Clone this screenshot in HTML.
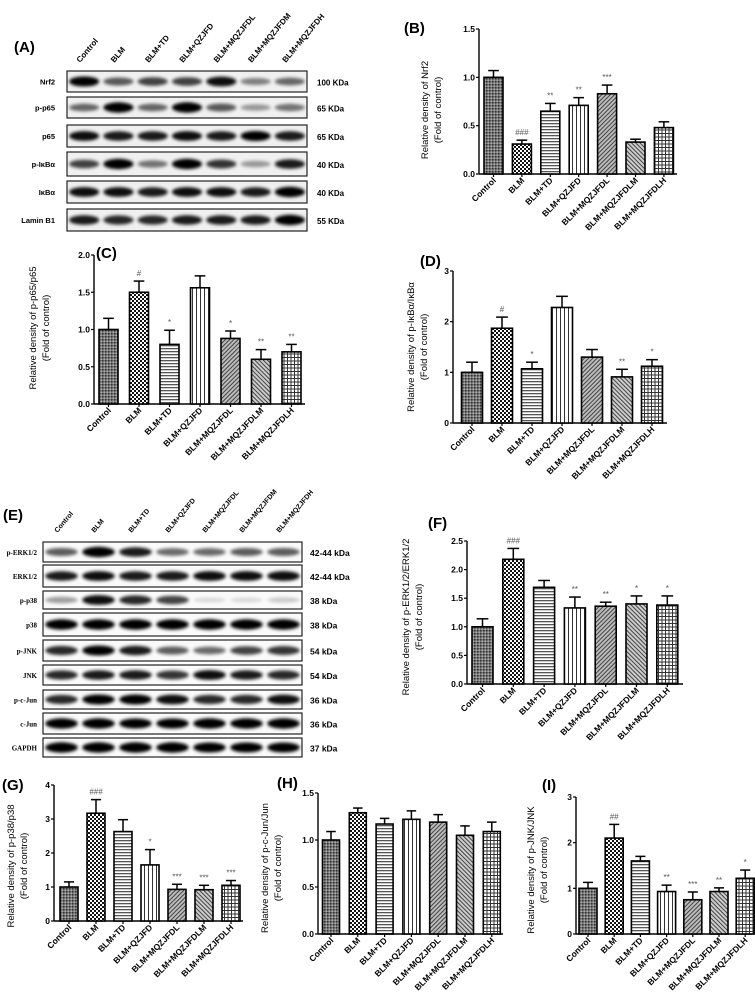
<!DOCTYPE html>
<html><head><meta charset="utf-8"><title>Figure</title>
<style>
html,body{margin:0;padding:0;background:#fff;}
svg{display:block;font-family:"Liberation Sans",Arial,sans-serif;}
</style></head>
<body>
<svg id="fig" xmlns="http://www.w3.org/2000/svg" width="755" height="999" viewBox="0 0 755 999">
<defs>
<filter id="blur" x="-30%" y="-80%" width="160%" height="260%"><feGaussianBlur stdDeviation="1.6"/></filter>
<pattern id="pCtrl" width="3" height="3" patternUnits="userSpaceOnUse"><rect width="3" height="3" fill="#777"/><rect width="1.5" height="1.5" fill="#333"/><rect x="1.5" y="1.5" width="1.5" height="1.5" fill="#aaa"/></pattern>
<pattern id="pBLM" width="4" height="4" patternUnits="userSpaceOnUse"><rect width="4" height="4" fill="#fff"/><rect width="2" height="2" fill="#111"/><rect x="2" y="2" width="2" height="2" fill="#111"/></pattern>
<pattern id="pTD" width="3" height="3" patternUnits="userSpaceOnUse"><rect width="3" height="3" fill="#fff"/><rect width="3" height="1.3" fill="#555"/></pattern>
<pattern id="pQZ" width="4" height="4" patternUnits="userSpaceOnUse"><rect width="4" height="4" fill="#fff"/><rect width="1" height="4" fill="#333"/></pattern>
<pattern id="pL" width="3" height="3" patternUnits="userSpaceOnUse" patternTransform="rotate(45)"><rect width="3" height="3" fill="#bbb"/><rect width="1" height="3" fill="#444"/></pattern>
<pattern id="pM" width="3" height="3" patternUnits="userSpaceOnUse" patternTransform="rotate(-45)"><rect width="3" height="3" fill="#ccc"/><rect width="1" height="3" fill="#444"/></pattern>
<pattern id="pH" width="3.5" height="3.5" patternUnits="userSpaceOnUse"><rect width="3.5" height="3.5" fill="#fff"/><rect width="1" height="3.5" fill="#333"/><rect width="3.5" height="1" fill="#333"/></pattern>
</defs>
<g id="root"></g>
</svg>
<script>
// ---------- shared data ----------
const groups = ["Control","BLM","BLM+TD","BLM+QZJFD","BLM+MQZJFDL","BLM+MQZJFDLM","BLM+MQZJFDLH"];
const blotLanesA = ["Control","BLM","BLM+TD","BLM+QZJFD","BLM+MQZJFDL","BLM+MQZJFDM","BLM+MQZJFDH"];
// B
const bVals = [1.0,0.31,0.65,0.71,0.83,0.33,0.48];
const bErr  = [0.07,0.04,0.08,0.08,0.09,0.03,0.06];
const bSig  = ["","###","**","**","***","",""];
const bTicks = ["0.0","0.5","1.0","1.5"];
// C
const cVals = [1.0,1.5,0.8,1.56,0.88,0.6,0.7];
const cErr  = [0.15,0.15,0.19,0.16,0.1,0.13,0.1];
const cSig  = ["","#","*","","*","**","**"];
const cTicks = ["0.0","0.5","1.0","1.5","2.0"];
// D
const dVals = [1.0,1.87,1.07,2.28,1.3,0.91,1.12];
const dErr  = [0.2,0.22,0.13,0.22,0.15,0.15,0.13];
const dSig  = ["","#","*","","","**","*"];
const dTicks = ["0","1","2","3"];
// F
const fVals = [1.0,2.18,1.69,1.33,1.36,1.4,1.38];
const fErr  = [0.14,0.19,0.12,0.19,0.07,0.14,0.16];
const fSig  = ["","###","","**","**","*","*"];
const fTicks = ["0.0","0.5","1.0","1.5","2.0","2.5"];
// G
const gVals = [1.0,3.17,2.63,1.65,0.93,0.92,1.05];
const gErr  = [0.15,0.4,0.35,0.45,0.15,0.13,0.14];
const gSig  = ["","###","","*","***","***","***"];
const gTicks = ["0","1","2","3","4"];
// H
const hVals = [1.0,1.29,1.17,1.22,1.19,1.05,1.09];
const hErr  = [0.09,0.05,0.06,0.09,0.08,0.1,0.1];
const hSig  = ["","","","","","",""];
const hTicks = ["0.0","0.5","1.0","1.5"];
// I
const iVals = [1.0,2.1,1.6,0.93,0.75,0.93,1.22];
const iErr  = [0.13,0.3,0.1,0.14,0.17,0.08,0.18];
const iSig  = ["","##","","**","***","**","*"];
const iTicks = ["0","1","2","3"];
// blot A
const aRows = ["Nrf2","p-p65","p65","p-IκBα","IκBα","Lamin B1"];
const aKda  = ["100 KDa","65 KDa","65 KDa","40 KDa","40 KDa","55 KDa"];
const aBands = [[0.95,0.6,0.7,0.7,0.9,0.45,0.55],[0.55,1,0.55,1,0.6,0.35,0.5],[0.9,0.85,0.85,0.9,0.85,0.95,0.85],[0.7,1,0.5,1,0.75,0.35,0.85],[0.9,0.9,0.85,0.9,0.9,0.85,1],[0.85,0.8,0.8,0.85,0.85,0.85,1]];
// blot E
const eRows = ["p-ERK1/2","ERK1/2","p-p38","p38","p-JNK","JNK","p-c-Jun","c-Jun","GAPDH"];
const eKda  = ["42-44 kDa","42-44 kDa","38 kDa","38 kDa","54 kDa","54 kDa","36 kDa","36 kDa","37 kDa"];
const eBands = [[0.6,1,0.85,0.55,0.55,0.6,0.6],[0.85,0.9,0.85,0.85,0.9,0.9,0.9],[0.35,0.9,0.8,0.7,0.12,0.12,0.18],[1,1,1,1,1,1,1],[0.8,0.95,0.85,0.6,0.55,0.7,0.75],[0.8,0.85,0.85,0.75,0.9,0.85,0.8],[0.8,0.95,0.95,0.9,0.8,0.8,0.9],[1,1,0.95,0.95,1,1,1],[1,1,1,1,0.95,0.95,0.95]];

const patterns = ["pCtrl","pBLM","pTD","pQZ","pL","pM","pH"];
const NS = "http://www.w3.org/2000/svg";
const root = document.getElementById("root");
function mk(tag, attrs, parent, text){
  const e = document.createElementNS(NS, tag);
  for (const k in attrs) e.setAttribute(k, attrs[k]);
  if (text !== undefined) e.textContent = text;
  (parent || root).appendChild(e);
  return e;
}

function barChart(id, cfg, vals, errs, sigs, ticks){
  const g = mk("g", {});
  
  
  const ymax = parseFloat(ticks[ticks.length-1]);
  const yS = v => cfg.y0 - (v / ymax) * (cfg.y0 - cfg.y1);
  const xS = i => cfg.c0 + i * cfg.step;
  const ya = mk("line", {x1:cfg.ax, y1:cfg.y1, x2:cfg.ax, y2:cfg.y0, stroke:"#000","stroke-width":1.4}, g);
  
  
  ticks.forEach(t => {
    const y = yS(parseFloat(t));
    mk("line", {x1:cfg.ax-3, y1:y, x2:cfg.ax, y2:y, stroke:"#000","stroke-width":1.2}, g);
    const tl = mk("text", {x:cfg.ax-4, y:y+3, "text-anchor":"end","font-size":8.5,"font-weight":"bold"}, g, t);
    
    
  });
  const xa = mk("line", {x1:cfg.ax, y1:cfg.y0, x2:cfg.axEnd, y2:cfg.y0, stroke:"#000","stroke-width":1.4}, g);
  
  
  vals.forEach((v, i) => {
    const cx = xS(i), top = yS(v), et = yS(v + errs[i]);
    mk("line", {x1:cx, y1:top, x2:cx, y2:et, stroke:"#000","stroke-width":1.5}, g);
    mk("line", {x1:cx-cfg.bw*0.28, y1:et, x2:cx+cfg.bw*0.28, y2:et, stroke:"#000","stroke-width":1.5}, g);
    const b = mk("rect", {x:cx-cfg.bw/2, y:top, width:cfg.bw, height:cfg.y0-top, fill:"url(#"+patterns[i]+")", stroke:"#000","stroke-width":1.6}, g);
    
    
    mk("line", {x1:cx, y1:cfg.y0, x2:cx, y2:cfg.y0+3, stroke:"#000","stroke-width":1.2}, g);
    if (sigs[i]) {
      const s = mk("text", {x:cx, y:et-5, "text-anchor":"middle","font-size":8,fill:"#555"}, g, sigs[i]);
      
      
    }
    const lx = cx + 3, ly = cfg.y0 + 7;
    const l = mk("text", {x:lx, y:ly, "text-anchor":"end","font-size":cfg.lf||8.5,"font-weight":"bold",transform:"rotate(-45 "+lx+" "+ly+")"}, g, groups[i]);
    
    
  });
  const tt = mk("text", {x:0, y:0, "text-anchor":"middle","font-size":9.5, transform:"translate("+cfg.tx+" "+cfg.ty+") rotate(-90)"}, g);
  
  
  mk("tspan", {x:0, dy:0}, tt, cfg.title);
  mk("tspan", {x:0, dy:13}, tt, "(Fold of control)");
  const pl = mk("text", {x:cfg.lx, y:cfg.ly, "font-size":15,"font-weight":"bold"}, g, "("+id+")");
  
  
}

function blot(id, cfg, rows, kda, bands, lanes, serif){
  const g = mk("g", {});
  
  
  const lw = (cfg.x1 - cfg.x0) / 7;
  lanes.forEach((n, i) => {
    const lx = cfg.x0 + lw*(i+0.5) - 4, ly = cfg.hy;
    const t = mk("text", {x:lx, y:ly, "font-size":cfg.hf,"font-weight":"bold",transform:"rotate(-50 "+lx+" "+ly+")"}, g, n);
    
    
  });
  rows.forEach((r, k) => {
    const [ry0, ry1] = cfg.rows[k];
    const box = mk("rect", {x:cfg.x0, y:ry0, width:cfg.x1-cfg.x0, height:ry1-ry0, fill:cfg.bg, stroke:"#222","stroke-width":1.2}, g);
    
    
    const cy = (ry0 + ry1) / 2;
    bands[k].forEach((v, i) => {
      const cx = cfg.x0 + lw*(i+0.5);
      mk("ellipse", {cx:cx, cy:cy, rx:lw*0.44, ry:2.2+3*v, fill:"#000", opacity:Math.min(1,v*1.05), filter:"url(#blur)"}, g);
    });
    const lab = mk("text", {x:cfg.labX, y:cy+3, "text-anchor":cfg.labAnchor, "font-size":cfg.lf, "font-weight":"bold", "font-family": serif ? "Liberation Serif, serif" : "Liberation Sans, sans-serif"}, g, r);
    
    
    const kd = mk("text", {x:cfg.kx, y:cy+4, "font-size":cfg.kf, "font-weight":"bold"}, g, kda[k]);
    
    
  });
  const pl = mk("text", {x:cfg.lx, y:cfg.ly, "font-size":15,"font-weight":"bold"}, g, "("+id+")");
  
  
}

blot("A", {x0:67,x1:307,hy:63,hf:8,bg:"#f0f0f0",labX:55,labAnchor:"end",lf:7.5,kx:317,kf:8,lx:14,ly:52,
  rows:[[71,92],[97,118],[125,147],[152,176],[181,203],[209,231]]}, aRows, aKda, aBands, blotLanesA, false);
blot("E", {x0:43,x1:302,hy:533,hf:7,bg:"#fafafa",labX:37,labAnchor:"end",lf:7,kx:310,kf:8.5,lx:3,ly:520,
  rows:[[542,562],[565,587],[591,609],[613,636],[640,661],[665,685],[690,709],[713,734],[738,757]]}, eRows, eKda, eBands, blotLanesA, true);

barChart("B", {ax:479,axEnd:677,y0:174,y1:29,c0:493.5,step:28.4,bw:19,tx:428,ty:110,lx:404,ly:33,title:"Relative density of Nrf2"}, bVals, bErr, bSig, bTicks);
barChart("C", {ax:94,axEnd:305,y0:404,y1:255,c0:108.5,step:30.5,bw:19,tx:36,ty:328,lx:96,ly:258,title:"Relative density of p-p65/p65"}, cVals, cErr, cSig, cTicks);
barChart("D", {ax:453,axEnd:667,y0:423,y1:271,c0:472,step:30,bw:21,tx:414,ty:347,lx:420,ly:266,title:"Relative density of p-IκBα/IκBα"}, dVals, dErr, dSig, dTicks);
barChart("F", {ax:467,axEnd:683,y0:684,y1:541,c0:482.5,step:30.8,bw:21,tx:409,ty:617,lx:428,ly:528,title:"Relative density of p-ERK1/2/ERK1/2"}, fVals, fErr, fSig, fTicks);
barChart("G", {ax:54,axEnd:243,y0:921,y1:785,c0:69,step:27,bw:18,tx:14,ty:866,lx:2,ly:790,title:"Relative density of p-p38/p38"}, gVals, gErr, gSig, gTicks);
barChart("H", {ax:318,axEnd:503,y0:934,y1:793,c0:331,step:26.8,bw:17,tx:268,ty:868,lx:277,ly:788,title:"Relative density of p-c-Jun/Jun"}, hVals, hErr, hSig, hTicks);
barChart("I", {ax:576,axEnd:752,y0:934,y1:797,c0:588,step:26.2,bw:18,tx:534,ty:870,lx:542,ly:790,title:"Relative density of p-JNK/JNK"}, iVals, iErr, iSig, iTicks);
</script>
</body></html>
